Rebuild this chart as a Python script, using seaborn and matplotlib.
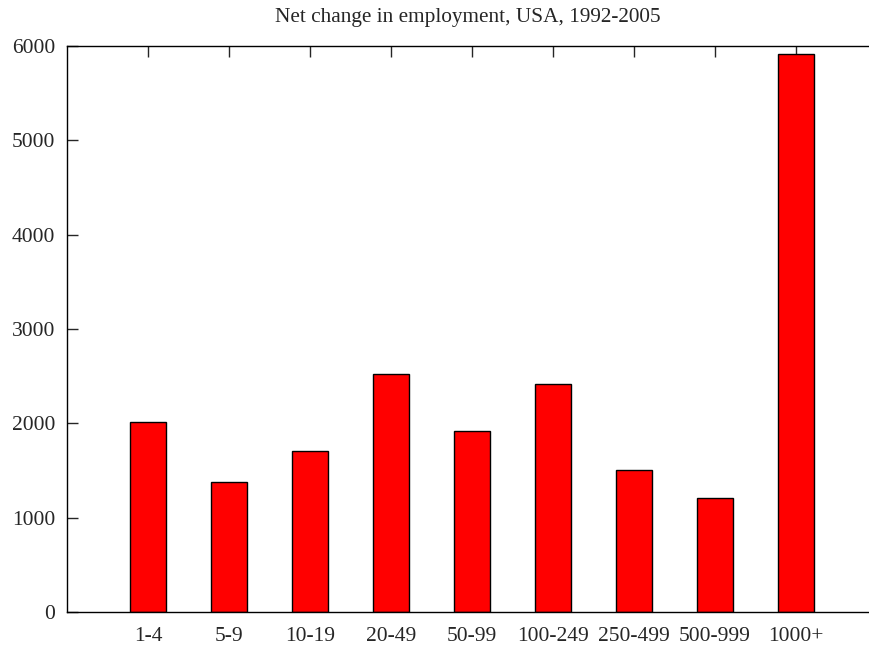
import matplotlib
matplotlib.use("Agg")
import matplotlib.pyplot as plt
import pandas as pd
import seaborn as sns

# ========== DATA ========== #

SIZE_CLASSES = ["1-4", "5-9", "10-19", "20-49", "50-99",
                "100-249", "250-499", "500-999", "1000+"]
NET_CHANGE = [2010, 1378, 1705, 2523, 1920, 2412, 1503, 1210, 5920]

TITLE = "Net change in employment, USA, 1992-2005"
Y_TICKS = [0, 1000, 2000, 3000, 4000, 5000, 6000]


def main():
    sns.set_style("ticks")
    plt.rcParams["font.family"] = ["Liberation Serif", "DejaVu Serif"]

    df = pd.DataFrame({"size": SIZE_CLASSES, "change": NET_CHANGE})

    fig = plt.figure(figsize=(8.69, 6.46), dpi=100)
    ax = fig.add_axes([0.0771, 0.0526, 0.9229, 0.8762])

    sns.barplot(data=df, x="size", y="change", color="#ff0000",
                saturation=1, width=0.45, edgecolor="black",
                linewidth=1.0, ax=ax)

    ax.set_xlim(-1, 8.9)
    ax.set_ylim(0, 6000)
    ax.set_yticks(Y_TICKS)
    ax.set_xlabel("")
    ax.set_ylabel("")

    # gnuplot-like frame: left, bottom, top, no right border
    ax.spines["right"].set_visible(False)
    for side in ["left", "bottom", "top"]:
        ax.spines[side].set_linewidth(1.0)
        ax.spines[side].set_color("black")

    ax.tick_params(axis="y", direction="in", length=8, width=1,
                   labelsize=15.5, pad=8.5, right=False)
    ax.tick_params(axis="x", direction="in", length=8, width=1,
                   labelsize=15.5, pad=11, bottom=False, top=True)

    ax.set_title(TITLE, fontsize=15.3, pad=17.5)

    fig.savefig("out.png", dpi=100)
    plt.close(fig)


if __name__ == "__main__":
    main()
